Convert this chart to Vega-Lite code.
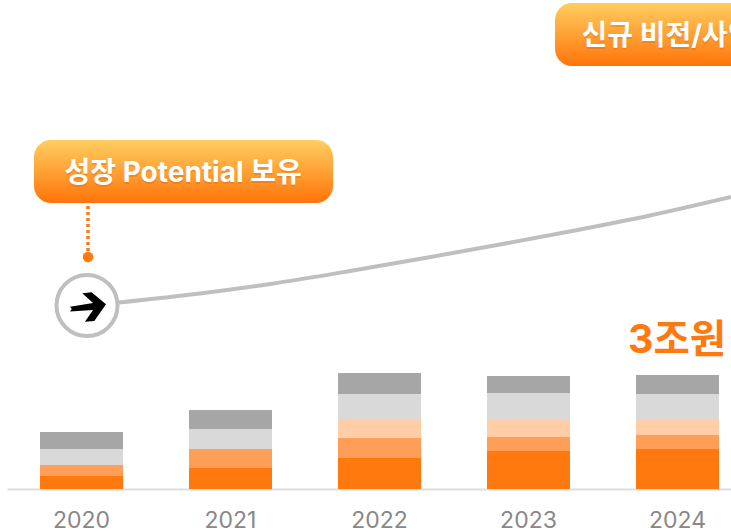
{
"$schema":"https://vega.github.io/schema/vega-lite/v6.json",
"width":731,"height":489,"autosize":{"type":"none"},"padding":{"left":0,"right":0,"top":0,"bottom":43},
"background":"white","view":{"stroke":null},
"resolve":{"scale":{"x":"independent"}},
"datasets":{
"bars":[
{"year":"2020","seg":1,"v":13},{"year":"2020","seg":2,"v":11},{"year":"2020","seg":4,"v":16},{"year":"2020","seg":5,"v":17},
{"year":"2021","seg":1,"v":21},{"year":"2021","seg":2,"v":19},{"year":"2021","seg":4,"v":20},{"year":"2021","seg":5,"v":19},
{"year":"2022","seg":1,"v":31},{"year":"2022","seg":2,"v":20},{"year":"2022","seg":3,"v":19},{"year":"2022","seg":4,"v":25},{"year":"2022","seg":5,"v":21},
{"year":"2023","seg":1,"v":38},{"year":"2023","seg":2,"v":14},{"year":"2023","seg":3,"v":17},{"year":"2023","seg":4,"v":27},{"year":"2023","seg":5,"v":17},
{"year":"2024","seg":1,"v":40},{"year":"2024","seg":2,"v":14},{"year":"2024","seg":3,"v":16},{"year":"2024","seg":4,"v":25},{"year":"2024","seg":5,"v":19}
],
"curve":[{"p":119,"q":186.5},{"p":200,"q":195.5},{"p":270,"q":205},{"p":350,"q":218},{"p":425,"q":231},{"p":500,"q":244.5},{"p":575,"q":258.5},{"p":650,"q":273.5},{"p":731,"q":292}],
"boxes":[{"a":34,"b":333,"c":286,"d":349},{"a":555,"b":760,"c":423,"d":486}],
"labels":[{"p":64.5,"q":315,"t":"성장 Potential 보유"},{"p":581.5,"q":452,"t":"신규 비전/사업"}]
},
"layer":[
{"data":{"name":"bars"},"mark":{"type":"bar"},
"encoding":{
"x":{"field":"year","type":"nominal","scale":{"type":"band","range":[7,752],"paddingInner":0.443,"paddingOuter":0.2215},
"axis":{"title":null,"labelAngle":0,"ticks":false,"grid":false,"domainColor":"#DDDDDD","domainWidth":2,"labelFont":"Inter","labelFontSize":23,"labelColor":"#888888","labelPadding":20}},
"y":{"field":"v","type":"quantitative","stack":"zero","scale":{"domain":[0,489],"nice":false,"zero":false},"axis":null},
"order":{"field":"seg"},
"color":{"field":"seg","type":"ordinal","legend":null,"scale":{"domain":[1,2,3,4,5],"range":["#FF790F","#FF9F57","#FFCDA6","#D9D9D9","#A6A6A6"]}}
}},
{"data":{"name":"curve"},"mark":{"type":"line","color":"#BFBFBF","strokeWidth":4,"interpolate":"monotone"},
"encoding":{"x":{"field":"p","type":"quantitative","scale":{"domain":[0,731],"nice":false,"zero":false},"axis":null},"y":{"field":"q","type":"quantitative"}}},
{"data":{"values":[{"p":88,"q":232},{"p":88,"q":292}]},"mark":{"type":"line","color":"#FF790F","strokeWidth":3.5,"strokeDash":[3,3]},
"encoding":{"x":{"field":"p","type":"quantitative","scale":{"domain":[0,731],"nice":false,"zero":false},"axis":null},"y":{"field":"q","type":"quantitative"}}},
{"data":{"values":[{"p":88,"q":232}]},"mark":{"type":"point","filled":true,"color":"#FF790F","size":110,"opacity":1},
"encoding":{"x":{"field":"p","type":"quantitative","scale":{"domain":[0,731],"nice":false,"zero":false},"axis":null},"y":{"field":"q","type":"quantitative"}}},
{"data":{"values":[{"p":87,"q":183.5}]},"mark":{"type":"point","filled":false,"fill":"white","fillOpacity":1,"stroke":"#BFBFBF","strokeOpacity":1,"strokeWidth":4,"size":3721,"opacity":1},
"encoding":{"x":{"field":"p","type":"quantitative","scale":{"domain":[0,731],"nice":false,"zero":false},"axis":null},"y":{"field":"q","type":"quantitative"}}},
{"data":{"values":[{"p":88,"q":183.5}]},"mark":{"type":"point","filled":true,"color":"black","opacity":1,"size":1296,"shape":"M-1 0.07 L0.28 -0.14 L-0.32 -0.68 L0.2 -0.73 L1 -0.07 L0.35 0.86 L-0.17 0.9 L0.28 0.25 L-1 0.34 L-0.9 0.2 Z"},
"encoding":{"x":{"field":"p","type":"quantitative","scale":{"domain":[0,731],"nice":false,"zero":false},"axis":null},"y":{"field":"q","type":"quantitative"}}},
{"data":{"name":"boxes"},"mark":{"type":"rect","cornerRadius":17,"fill":{"gradient":"linear","x1":0,"y1":0,"x2":0,"y2":1,"stops":[{"offset":0,"color":"#FFCE60"},{"offset":1,"color":"#FF740A"}]}},
"encoding":{"x":{"field":"a","type":"quantitative","scale":{"domain":[0,731],"nice":false,"zero":false},"axis":null},"x2":{"field":"b"},"y":{"field":"c","type":"quantitative"},"y2":{"field":"d"}}},
{"data":{"name":"labels"},"mark":{"type":"text","align":"left","baseline":"middle","font":"Inter, Noto Sans CJK KR","fontWeight":"bold","fontSize":28,"color":"#B85A10","opacity":0.25,"dy":2},
"encoding":{"x":{"field":"p","type":"quantitative","scale":{"domain":[0,731],"nice":false,"zero":false},"axis":null},"y":{"field":"q","type":"quantitative"},"text":{"field":"t"}}},
{"data":{"name":"labels"},"mark":{"type":"text","align":"left","baseline":"middle","font":"Inter, Noto Sans CJK KR","fontWeight":"bold","fontSize":28,"color":"white"},
"encoding":{"x":{"field":"p","type":"quantitative","scale":{"domain":[0,731],"nice":false,"zero":false},"axis":null},"y":{"field":"q","type":"quantitative"},"text":{"field":"t"}}},
{"data":{"values":[{"p":628,"q":148,"t":"3조원"}]},"mark":{"type":"text","align":"left","baseline":"middle","font":"Inter, Noto Sans CJK KR","fontWeight":"bold","fontSize":39.5,"color":"#FF790F"},
"encoding":{"x":{"field":"p","type":"quantitative","scale":{"domain":[0,731],"nice":false,"zero":false},"axis":null},"y":{"field":"q","type":"quantitative"},"text":{"field":"t"}}}
]
}
